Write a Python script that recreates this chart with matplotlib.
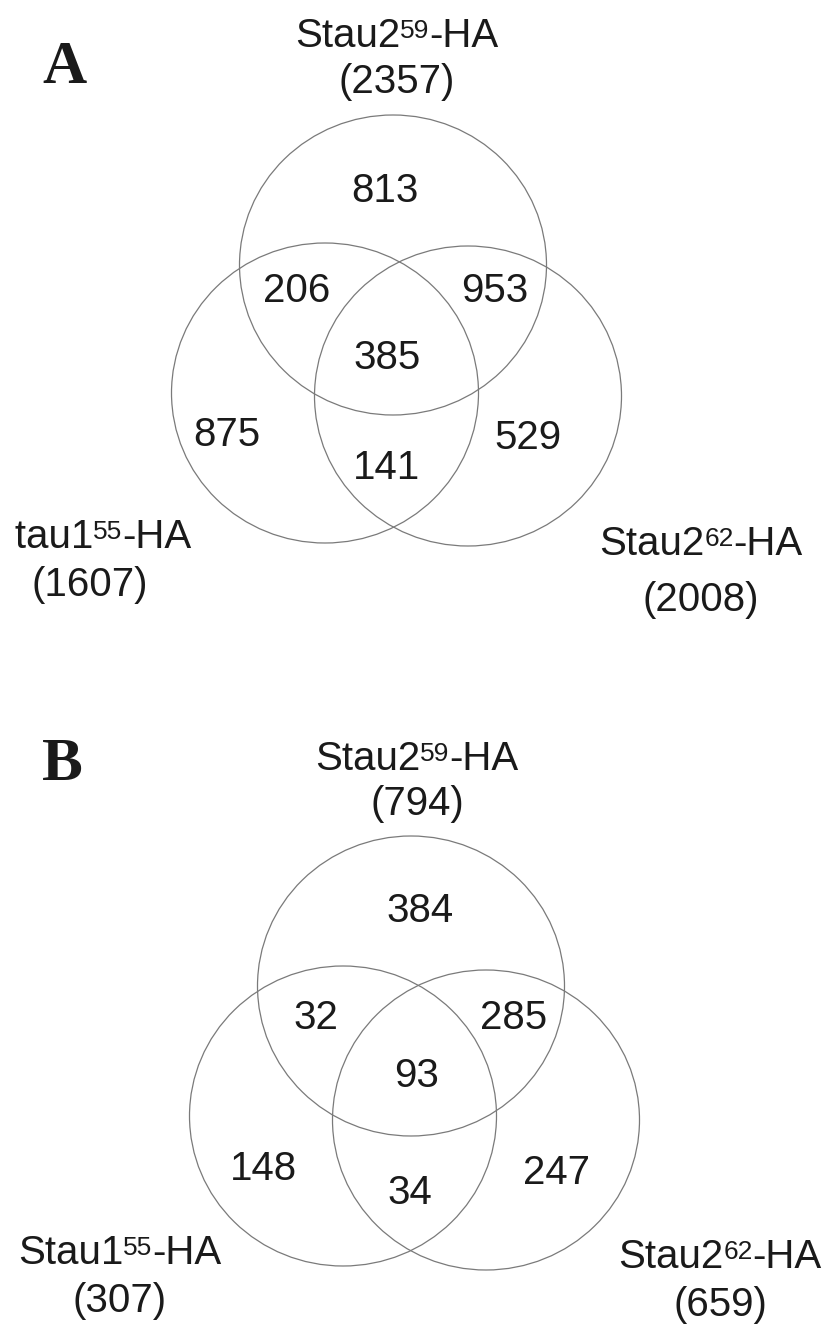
import matplotlib
matplotlib.use("Agg")
import matplotlib.pyplot as plt
from matplotlib.patches import Ellipse
from matplotlib.transforms import Bbox, TransformedBbox

plt.rcParams['font.family'] = ['Liberation Sans', 'DejaVu Sans']

# set names (top, left, right circle): base, superscript, tail
set_names = [('Stau2', '59', '-HA'), ('Stau1', '55', '-HA'), ('Stau2', '62', '-HA')]

# panel A
totals_a = [2357, 1607, 2008]
# regions: top only, top&left, top&right, all, left only, left&right, right only
regions_a = [813, 206, 953, 385, 875, 141, 529]

# panel B
totals_b = [794, 307, 659]
regions_b = [384, 32, 285, 93, 148, 34, 247]

panel_letters = ['A', 'B']

# layout in pixel coords (y down)
circle_xy_a = [(393, 265), (325, 393), (468, 396)]
circle_xy_b = [(411, 986), (343, 1116), (486, 1120)]
circle_w, circle_h = 307, 300

region_xy_a = [(385, 188), (297, 288), (495, 288), (387, 355),
               (227, 432), (387, 465), (528, 435)]
region_xy_b = [(420, 908), (316, 1015), (514, 1015), (417, 1073),
               (263, 1166), (410, 1190), (557, 1170)]

# label center x, name baseline, total baseline
label_pos_a = [(397, 47, 93), (90, 548, 596), (701, 555, 611)]
label_pos_b = [(417, 770, 815), (120, 1264, 1312), (720, 1268, 1316)]

letter_pos = [(65, 83), (62, 780)]

fig = plt.figure(figsize=(8.29, 13.29), dpi=100)
ax = fig.add_axes([0, 0, 1, 1])
ax.set_xlim(0, 829)
ax.set_ylim(1329, 0)
ax.axis('off')
renderer = fig.canvas.get_renderer()

fs = 29
sup_fs = 19
sup_raise = 9
line_col = '#7a7a7a'
text_col = '#1a1a1a'

# the scanned figure crops the left edge of panel A's left label
crop_box = TransformedBbox(Bbox([[15, 0], [829, 1329]]), ax.transData)


def text_width(s, size):
    t = ax.text(0, 0, s, fontsize=size)
    w = t.get_window_extent(renderer).width
    t.remove()
    return w


def draw_label(xc, yb, base, sup, tail, clip=None):
    w1 = text_width(base, fs)
    w2 = text_width(sup, sup_fs)
    w3 = text_width(tail, fs)
    x0 = xc - (w1 + w2 + w3) / 2
    parts = [
        ax.text(x0, yb, base, fontsize=fs, color=text_col, ha='left', va='baseline'),
        ax.text(x0 + w1, yb - sup_raise, sup, fontsize=sup_fs, color=text_col,
                ha='left', va='baseline'),
        ax.text(x0 + w1 + w2, yb, tail, fontsize=fs, color=text_col,
                ha='left', va='baseline'),
    ]
    if clip is not None:
        for t in parts:
            t.set_clip_box(clip)
            t.set_clip_on(True)


def draw_panel(circles, regions, region_xy, totals, label_pos, clips):
    for (cx, cy) in circles:
        ax.add_patch(Ellipse((cx, cy), circle_w, circle_h, fill=False,
                             edgecolor=line_col, linewidth=0.9))
    for val, (x, y) in zip(regions, region_xy):
        ax.text(x, y + 14, str(val), fontsize=fs, color=text_col,
                ha='center', va='baseline')
    for name, tot, (x, yn, yt), clip in zip(set_names, totals, label_pos, clips):
        draw_label(x, yn, *name, clip=clip)
        ax.text(x, yt, '(%d)' % tot, fontsize=fs, color=text_col,
                ha='center', va='baseline')


draw_panel(circle_xy_a, regions_a, region_xy_a, totals_a, label_pos_a,
           [None, crop_box, None])
draw_panel(circle_xy_b, regions_b, region_xy_b, totals_b, label_pos_b,
           [None, None, None])

for letter, (x, y) in zip(panel_letters, letter_pos):
    ax.text(x, y, letter, fontsize=44, fontweight='bold', color=text_col,
            family=['Liberation Serif', 'DejaVu Serif'],
            ha='center', va='baseline')

fig.savefig('out.png', dpi=100)
